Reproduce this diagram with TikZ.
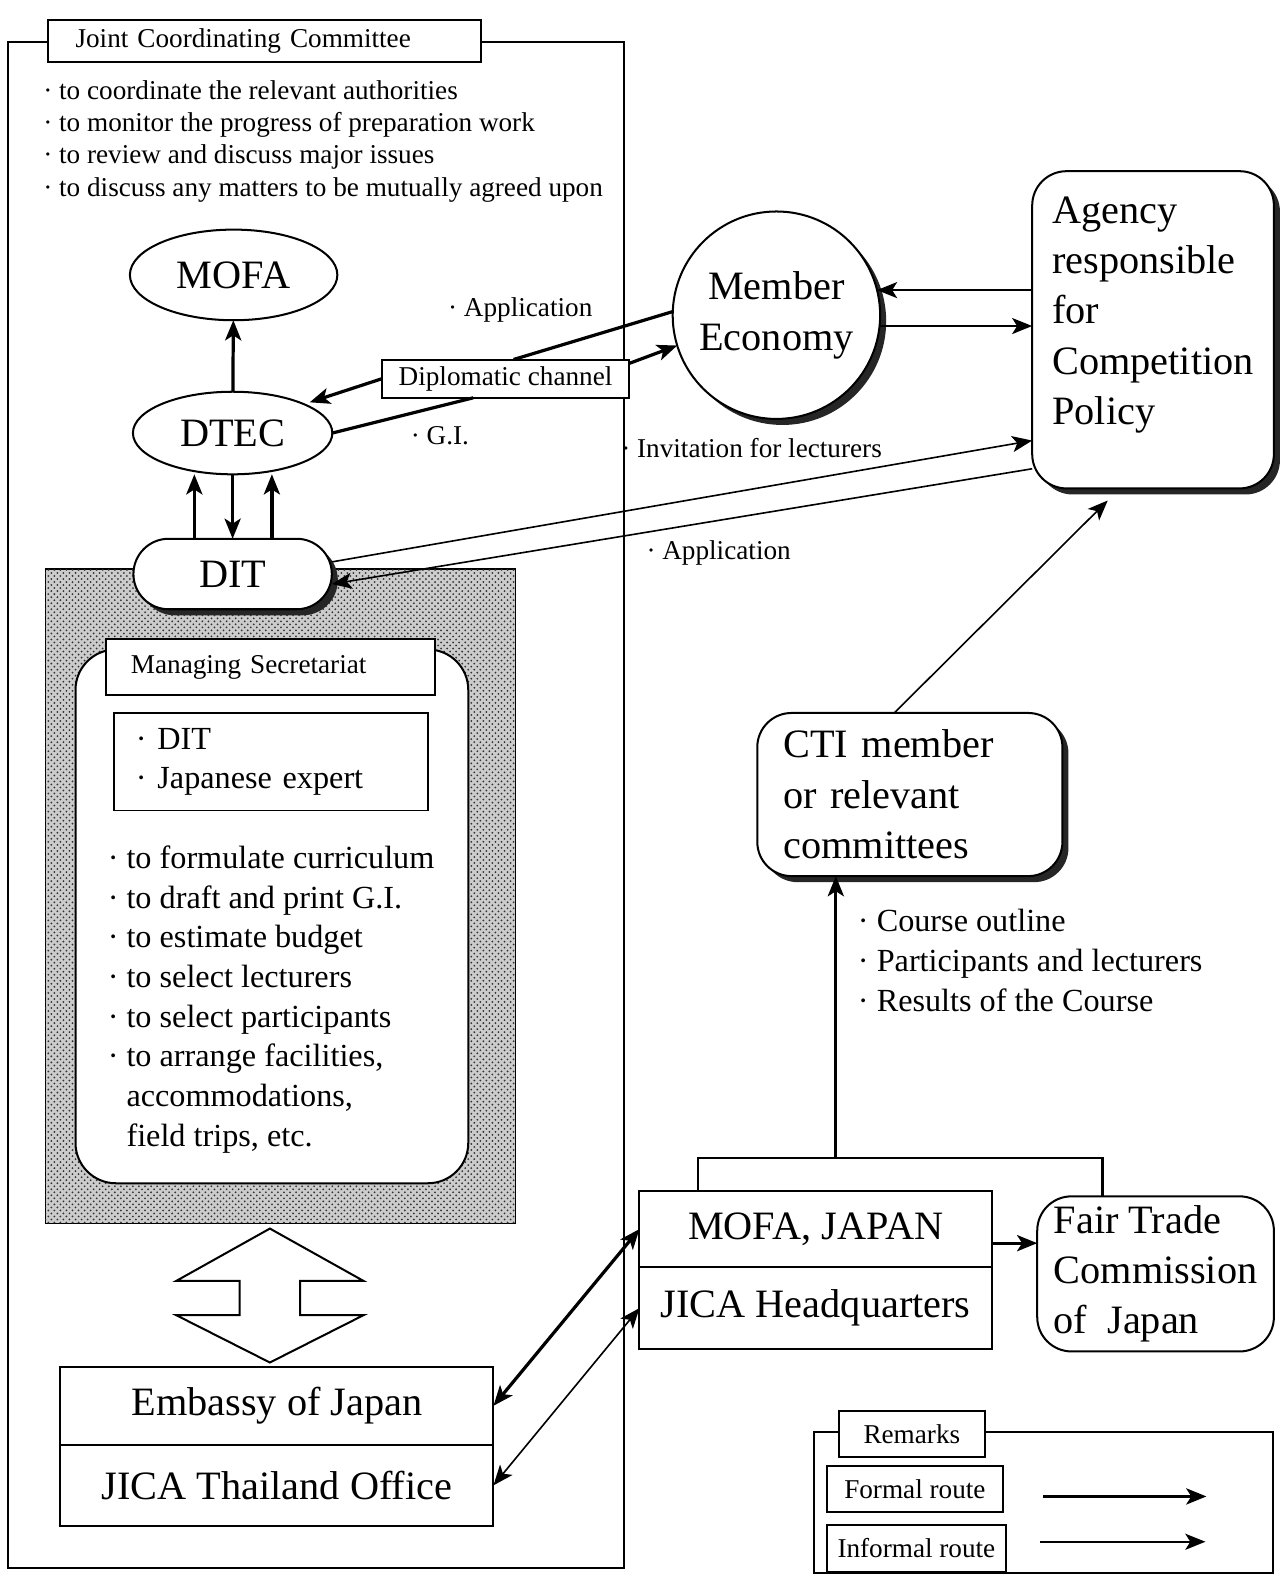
\documentclass[tikz,border=0pt]{standalone}
\usepackage{fontspec}
\setmainfont{Liberation Serif}
\usetikzlibrary{positioning,shapes.geometric,shadows,patterns,arrows.meta}

\newcommand{\hugetxt}{\fontsize{20}{25}\selectfont}
\newcommand{\medtxt}{\fontsize{16}{19.7}\selectfont}
\newcommand{\smtxt}{\fontsize{13.5}{16}\selectfont}

\tikzset{
  every node/.style={inner sep=0pt, outer sep=0pt},
  edged/.style={draw, line width=1pt, fill=white},
  oval/.style={edged, ellipse, font=\hugetxt},
  dshadow/.style={drop shadow={shadow xshift=3pt, shadow yshift=-3pt, fill=black!85, opacity=1}},
  formal/.style={line width=1.6pt, ->},
  informal/.style={line width=0.8pt, ->},
}

\begin{document}
\begin{tikzpicture}[x=0.5pt, y=-0.5pt, >={Stealth[length=10pt,width=8pt,inset=2.5pt]}]
\path[use as bounding box, fill=white] (0,0) rectangle (1273,1568);

% joint coordinating committee
\draw[line width=1pt] (8,42) rectangle (620,1557);
\node[edged, text width=188pt, inner xsep=13.5pt, minimum height=21pt, align=left, font=\smtxt] (jcc) at (263,41) {Joint Coordinating Committee};
\node[anchor=north west, align=left, font=\smtxt] (jcclist) at (43,80) {·\ to coordinate the relevant authorities\\ ·\ to monitor the progress of preparation work\\ ·\ to review and discuss major issues\\ ·\ to discuss any matters to be mutually agreed upon};

\node[oval, minimum width=103pt, minimum height=45pt] (mofa) at (232,273) {MOFA};
\node[oval, minimum width=99pt, minimum height=41pt] (dtec) at (231,430) {DTEC};

% managing secretariat
\draw[line width=0.8pt, fill=black!20, postaction={pattern=crosshatch dots, pattern color=black!80}] (45,565) rectangle (512,1215);
\node[edged, dshadow, rounded corners=17.5pt, minimum width=98.5pt, minimum height=35pt, font=\hugetxt] (dit) at (231,570) {DIT};
\node[edged, rounded corners=20pt, minimum width=195pt, minimum height=265pt] (ms) at (270,910) {};
\node[edged, text width=138.5pt, inner xsep=12.5pt, minimum height=27.5pt, align=left, font=\smtxt] (mstitle) at (268.5,662.5) {Managing Secretariat};
\node[edged, line width=0.8pt, text width=134pt, inner xsep=11pt, minimum height=48.5pt, align=left, font=\medtxt] (msmembers) at (269,756.5) {·\ DIT\\ ·\ Japanese expert};
\node[anchor=north west, align=left, font=\medtxt] (mslist) at (107,840) {·\ to formulate curriculum\\ ·\ to draft and print G.I.\\ ·\ to estimate budget\\ ·\ to select lecturers\\ ·\ to select participants\\ ·\ to arrange facilities,\\ \hphantom{·\ }accommodations,\\ \hphantom{·\ }field trips, etc.};

% double block arrow
\draw[line width=1pt] (268,1220) -- (361,1272) -- (298,1272) -- (298,1306) -- (361,1306) -- (268,1353)
  -- (175,1306) -- (238,1306) -- (238,1272) -- (175,1272) -- cycle;

\node[edged, minimum width=215pt, minimum height=39pt, font=\hugetxt] (embassy) at (275,1396) {Embassy of Japan};
\node[edged, minimum width=215pt, minimum height=40pt, font=\hugetxt, below=0pt of embassy] (jicath) {JICA Thailand Office};

% right side
\node[edged, dshadow, circle, minimum size=103pt, align=center, font=\hugetxt] (member) at (771,313) {Member\\Economy};
\node[edged, dshadow, rounded corners=17pt, minimum width=120pt, minimum height=157.5pt, align=left, font=\hugetxt] (agency) at (1145,327.5) {Agency\\responsible\\for\\Competition\\Policy\\[-6pt]\mbox{}};
\node[edged, minimum width=122.5pt, minimum height=19pt, font=\smtxt] (dipl) at (502,376) {Diplomatic channel};

\node[edged, dshadow, rounded corners=17pt, text width=125.5pt, inner xsep=13pt, minimum height=81pt, align=left, font=\hugetxt] (cti) at (903.5,789) {CTI member\\or relevant\\committees};
\node[anchor=north west, align=left, font=\medtxt] (ctilist) at (852,903) {·\ Course outline\\ ·\ Participants and lecturers\\ ·\ Results of the Course};

\node[edged, minimum width=175pt, minimum height=37.5pt, font=\hugetxt] (mofaj) at (810,1220.5) {MOFA, JAPAN};
\node[edged, minimum width=175pt, minimum height=41pt, font=\hugetxt, below=0pt of mofaj] (jicahq) {JICA Headquarters};
\node[edged, rounded corners=17pt, minimum width=117.5pt, minimum height=77pt, align=left, font=\hugetxt] (ftc) at (1147.5,1265) {Fair Trade\\Commission\\of\ \ Japan};

% labels
\node[anchor=west, font=\smtxt] (lapp) at (445,308) {·\ Application};
\node[anchor=west, font=\smtxt] (lgi) at (408,433) {·\ G.I.};
\node[anchor=west, font=\smtxt] (linv) at (617,445) {·\ Invitation for lecturers};
\node[anchor=west, font=\smtxt] (lapp2) at (642,549) {·\ Application};

% routes
\draw[formal] (dtec) -- (mofa);
\draw[formal] ([xshift=-19pt]dit.north) -- ([xshift=-19pt]dit.north |- dtec.south);
\draw[formal] (dtec.south) -- (dit.north);
\draw[formal] ([xshift=19.5pt]dit.north) -- ([xshift=19.5pt]dit.north |- dtec.south);

\draw[formal, -] (member.178) -- ([xshift=4pt]dipl.north);
\draw[formal, shorten >=3pt] (dipl.west) -- (dtec.22);
\draw[formal, -] (dtec.east) -- ([xshift=-16pt]dipl.south);
\draw[formal] ([yshift=-2pt]dipl.north east) -- (member.197);

\draw[informal] (member.14 -| agency.west) -- (member.14);
\draw[informal] (member.-6) -- (member.-6 -| agency.west);

\draw[informal] ([yshift=6pt]dit.east) -- ([yshift=-55pt]agency.west);
\draw[informal] ([yshift=-69pt]agency.west) -- ([yshift=-5pt]dit.east);

\draw[informal] ([xshift=-7.75pt]cti.north) -- ([xshift=-22.5pt,yshift=-6pt]agency.south);

\coordinate (brkL) at (693,1150);
\coordinate (brkM) at (830,1150);
\coordinate (brkR) at (1095,1150);
\draw[line width=1.2pt] (brkL |- mofaj.north) -- (brkL) -- (brkR) -- (brkR |- ftc.north);
\draw[formal] (brkM) -- (brkM |- cti.south);

\draw[formal] ([yshift=-7pt]mofaj.east) -- ([yshift=-7pt]mofaj.east -| ftc.west);
\draw[formal, <->] (embassy.east) -- (mofaj.west);
\draw[informal, <->] (jicath.east) -- (jicahq.west);

% remarks
\draw[line width=1pt] (808,1422) rectangle (1264,1562);
\node[edged, minimum width=72.5pt, minimum height=23pt, font=\smtxt] (remarks) at (905.5,1424) {Remarks};
\node[edged, minimum width=87.5pt, minimum height=22.5pt, font=\smtxt] (formalkey) at (908.5,1478.5) {Formal route};
\node[edged, minimum width=89pt, minimum height=23.5pt, font=\smtxt] (informalkey) at (910,1537.5) {Informal route};
\coordinate (fk1) at (1036,1486);
\coordinate (fk2) at (1198,1486);
\coordinate (ik1) at (1033,1531);
\coordinate (ik2) at (1197,1531);
\draw[formal] (fk1) -- (fk2);
\draw[informal] (ik1) -- (ik2);
\end{tikzpicture}
\end{document}
